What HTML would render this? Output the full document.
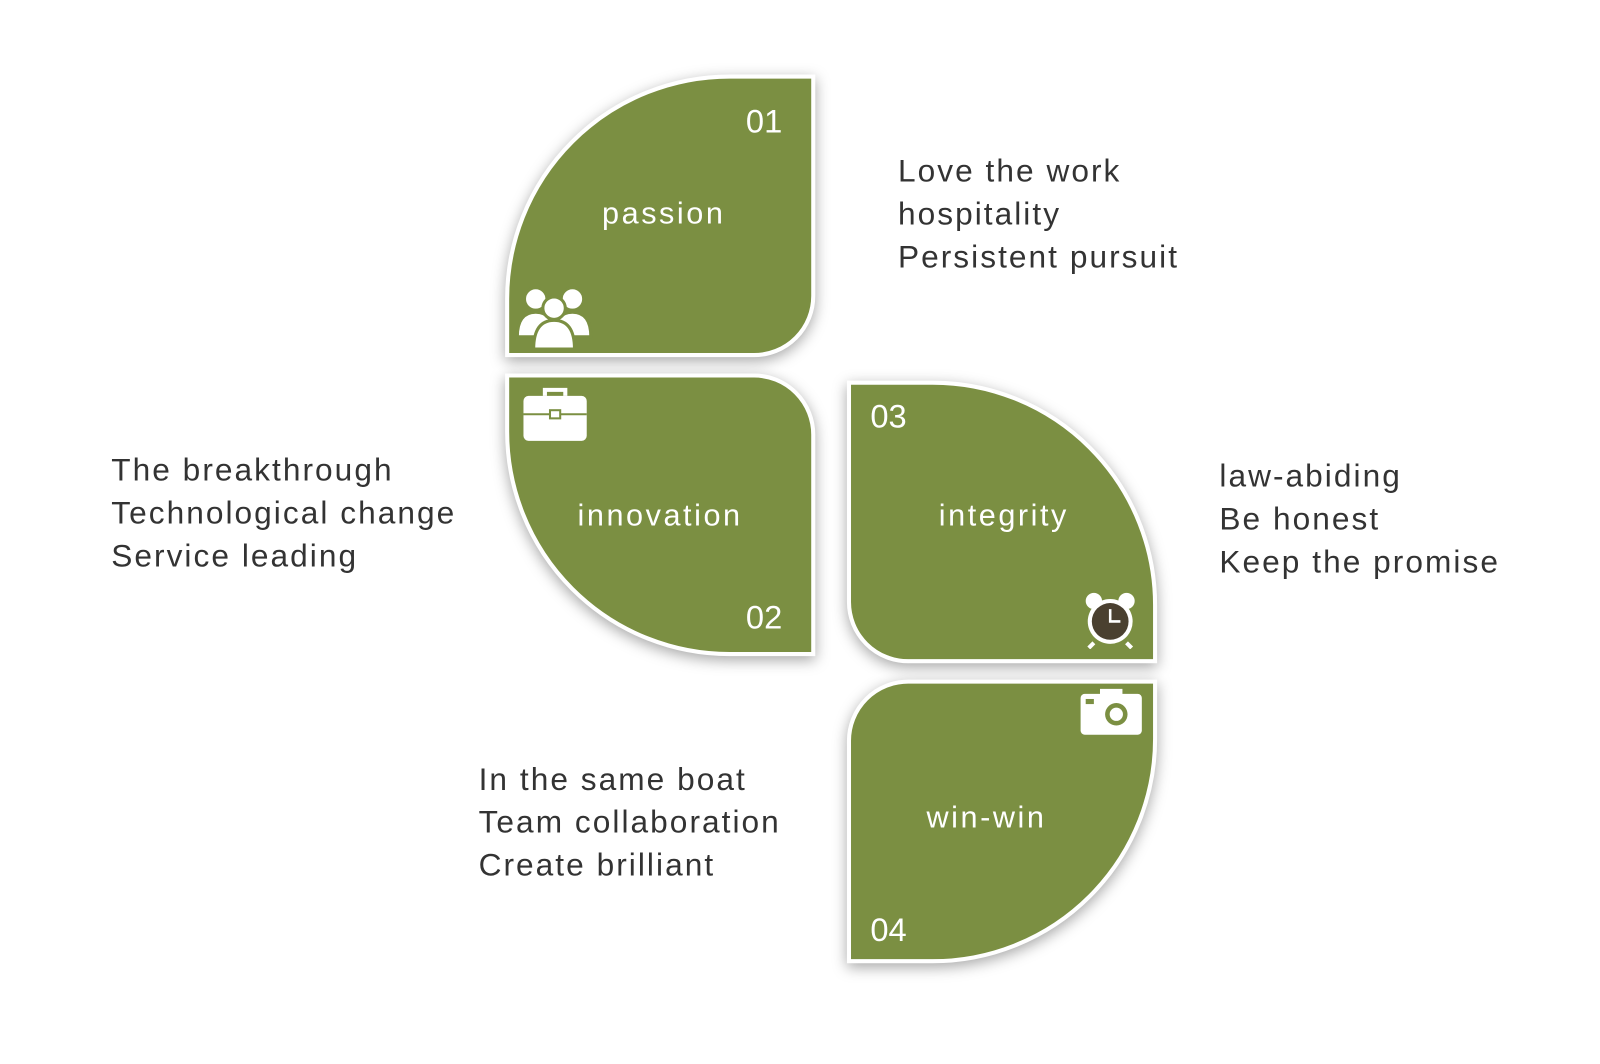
<!DOCTYPE html>
<html><head><meta charset="utf-8"><style>
body{margin:0;width:1600px;height:1043px;background:#fff;position:relative;font-family:"Liberation Sans",sans-serif;overflow:hidden}
#w{position:absolute;left:0;top:0;width:1600px;height:1043px;transform:scale(1.0204);transform-origin:0 0}
.s{position:absolute;background:#7b8f42;border:4px solid #fff;box-shadow:0 4px 14px rgba(0,0,0,.35);box-sizing:border-box;color:#fff}
.t{position:absolute;font-size:30px;color:#fff;letter-spacing:2.5px}
.n{position:absolute;font-size:32px;color:#fff}
.d{position:absolute;font-size:31px;color:#333;line-height:42px;letter-spacing:2px}
</style></head><body><div id="w">
<div class="s" style="left:495px;top:73px;width:304px;height:277px;border-radius:220px 0 60px 0"></div>
<div class="s" style="left:495px;top:366px;width:304px;height:277px;border-radius:0 60px 0 220px"></div>
<div class="s" style="left:830px;top:373px;width:304px;height:277px;border-radius:0 220px 0 60px"></div>
<div class="s" style="left:830px;top:666px;width:304px;height:278px;border-radius:60px 0 220px 0"></div>
<div class="n" style="left:731px;top:101px">01</div>
<div class="n" style="left:731px;top:587px">02</div>
<div class="n" style="left:853px;top:390px">03</div>
<div class="n" style="left:853px;top:893px">04</div>
<div class="t" style="left:590px;top:193px">passion</div>
<div class="t" style="left:566px;top:489px">innovation</div>
<div class="t" style="left:920px;top:489px">integrity</div>
<div class="t" style="left:908px;top:785px">win-win</div>
<svg style="position:absolute;left:505px;top:280px" width="76" height="64" viewBox="0 0 76 64">
<g fill="#fff" stroke="#7b8f42" stroke-width="3">
<circle cx="20" cy="13" r="11"/><path d="M2 50 q0-24 18-24 q18 0 18 24z"/>
<circle cx="56" cy="13" r="11"/><path d="M38 50 q0-24 18-24 q18 0 18 24z"/>
<circle cx="38" cy="22" r="11"/><path d="M18 62 q0-28 20-28 q20 0 20 28z"/></g></svg>
<svg style="position:absolute;left:512px;top:380px" width="64" height="54" viewBox="0 0 64 54">
<path d="M22 8 v-6 h20 v6" fill="none" stroke="#fff" stroke-width="4"/>
<rect x="1" y="8" width="62" height="44" rx="5" fill="#fff"/>
<path d="M1 26 h62" stroke="#7b8f42" stroke-width="2"/><rect x="27" y="22" width="10" height="8" fill="#fff" stroke="#7b8f42" stroke-width="2"/></svg>
<svg style="position:absolute;left:1062px;top:580px" width="52" height="56" viewBox="0 0 52 56">
<circle cx="10" cy="9" r="8" fill="#fff"/><circle cx="42" cy="9" r="8" fill="#fff"/>
<path d="M10 50 l-5 5 M42 50 l5 5" stroke="#fff" stroke-width="4"/>
<circle cx="26" cy="29" r="22" fill="#fff"/><circle cx="26" cy="29" r="18" fill="#4a4030"/>
<path d="M26 17 v12 h10" stroke="#fff" stroke-width="2.5" fill="none"/></svg>
<svg style="position:absolute;left:1058px;top:675px" width="62" height="46" viewBox="0 0 62 46">
<rect x="20" y="0" width="22" height="8" fill="#fff"/><rect x="1" y="5" width="60" height="40" rx="4" fill="#fff"/>
<circle cx="36" cy="25" r="11" fill="#7b8f42"/><circle cx="36" cy="25" r="6.5" fill="#fff"/><rect x="6" y="10" width="8" height="5" fill="#7b8f42"/></svg>
<div class="d" style="left:880px;top:147px">Love the work<br>hospitality<br>Persistent pursuit</div>
<div class="d" style="left:109px;top:440px">The breakthrough<br>Technological change<br>Service leading</div>
<div class="d" style="left:1195px;top:446px">law-abiding<br>Be honest<br>Keep the promise</div>
<div class="d" style="left:469px;top:743px">In the same boat<br>Team collaboration<br>Create brilliant</div>
</div></body></html>
